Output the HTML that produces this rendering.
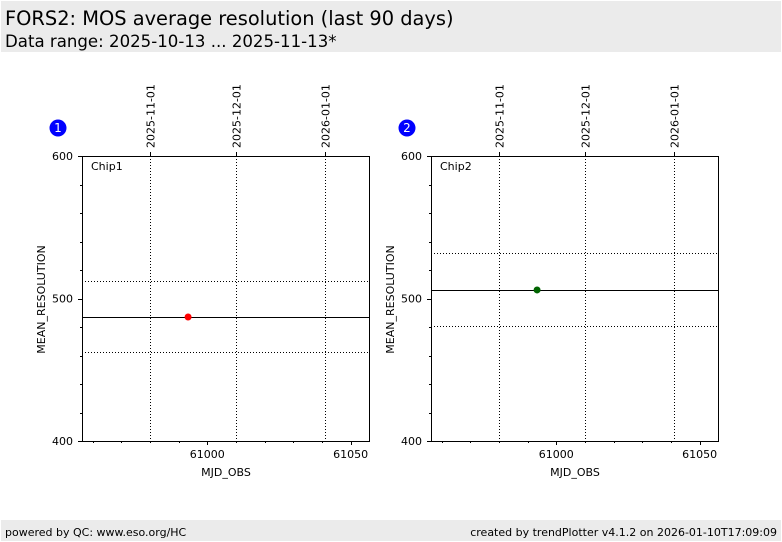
<!DOCTYPE html>
<html><head><meta charset="utf-8"><style>
body{margin:0;width:782px;height:542px;background:#fff;font-family:"DejaVu Sans","Liberation Sans",sans-serif;position:relative;overflow:hidden}
#hdr{position:absolute;left:1px;top:1px;width:780px;height:51px;background:#ebebeb}
#t1{position:absolute;left:4px;top:6px;font-size:19.4px}
#t2{position:absolute;left:4px;top:31px;font-size:16.6px}
#ftr{position:absolute;left:1px;top:520px;width:780px;height:21px;background:#ebebeb;font-size:11px}
svg text{font-family:"DejaVu Sans","Liberation Sans",sans-serif}
</style></head><body>
<div id="hdr">
<div id="t1">FORS2: MOS average resolution (last 90 days)</div>
<div id="t2">Data range: 2025-10-13 ... 2025-11-13*</div>
</div>
<svg id="svg" width="782" height="542" style="position:absolute;left:0;top:0"></svg>
<div id="ftr">
<span style="position:absolute;left:4px;top:6px">powered by QC: www.eso.org/HC</span>
<span style="position:absolute;right:4px;top:6px">created by trendPlotter v4.1.2 on 2026-01-10T17:09:09</span>
</div>
<script>
const chipNames=["Chip1","Chip2"];
const pointMjd=[60993.3,60993.3];
const pointValues=[487,506];
const meanValues=[487,506];
const upperLimits=[512,532];
const lowerLimits=[462.5,481];
const pointColors=["#ff0000","#006400"];
const xTicks=[61000,61050];
const dateLabels=["2025-11-01","2025-12-01","2026-01-01"];
const dateMjd=[60980,61010,61041];
const yTicks=[400,500,600];

const NS="http://www.w3.org/2000/svg";
const svg=document.getElementById('svg');
function mk(t,a,p){const e=document.createElementNS(NS,t);for(const k in a)e.setAttribute(k,a[k]);(p||svg).appendChild(e);return e;}
const X0=60956.3,X1=61056.4,Y0=400,Y1=600,PW=287,PH=285,TOP=156;
chipNames.forEach((name,i)=>{
  const L=82+i*349;
  const g=mk('g',{});
  
  
  const xs=v=>L+(v-X0)/(X1-X0)*PW;
  const ys=v=>TOP+PH-(v-Y0)/(Y1-Y0)*PH;
  const c=mk('circle',{cx:L-24,cy:128,r:8.5,fill:'#0000ff'},g);
  
  
  const bt=mk('text',{x:L-24,y:132,'text-anchor':'middle','font-size':12,fill:'#fff'},g);bt.textContent=String(i+1);
  dateMjd.forEach((d,j)=>{
    const x=Math.round(xs(d))+0.5;
    const ln=mk('line',{x1:x,x2:x,y1:TOP,y2:TOP+PH,stroke:'#000','stroke-width':1,'stroke-dasharray':'1,2'},g);
    
    
    mk('line',{x1:x,x2:x,y1:TOP,y2:TOP-4,stroke:'#000'},g);
    const t=mk('text',{x:0,y:0,'font-size':11,transform:`translate(${x+4},${TOP-8}) rotate(-90)`},g);
    t.textContent=dateLabels[j];
    
    
  });
  [upperLimits[i],lowerLimits[i]].forEach(v=>{
    const y=Math.round(ys(v))+0.5;
    const ln=mk('line',{x1:L,x2:L+PW,y1:y,y2:y,stroke:'#000','stroke-dasharray':'1,2'},g);
    
    
  });
  const my=Math.round(ys(meanValues[i]))+0.5;
  const ml=mk('line',{x1:L,x2:L+PW,y1:my,y2:my,stroke:'#000'},g);
  
  
  const fr=mk('rect',{x:L+0.5,y:TOP+0.5,width:PW,height:PH,fill:'none',stroke:'#000'},g);
  
  
  for(let v=60960;v<=X1;v+=10){const x=Math.round(xs(v))+0.5;mk('line',{x1:x,x2:x,y1:TOP+PH,y2:TOP+PH+(v%50==0?4:2),stroke:'#000'},g);}
  xTicks.forEach(v=>{const t=mk('text',{x:xs(v),y:TOP+PH+17,'text-anchor':'middle','font-size':11},g);t.textContent=v;
    
    });
  for(let v=Y0;v<=Y1;v+=20){const y=Math.round(ys(v))+0.5;mk('line',{x1:L,x2:L-(v%100==0?4:2),y1:y,y2:y,stroke:'#000'},g);}
  yTicks.forEach(v=>{const t=mk('text',{x:L-9,y:ys(v)+4,'text-anchor':'end','font-size':11},g);t.textContent=v;
    
    });
  const xl=mk('text',{x:L+144,y:476,'text-anchor':'middle','font-size':11},g);xl.textContent='MJD_OBS';
  
  
  const yl=mk('text',{x:0,y:0,'text-anchor':'middle','font-size':11,transform:`translate(${L-37},${TOP+PH/2+1}) rotate(-90)`},g);yl.textContent='MEAN_RESOLUTION';
  
  
  const cl=mk('text',{x:L+9,y:TOP+14,'font-size':11},g);cl.textContent=name;
  
  
  const p=mk('circle',{cx:xs(pointMjd[i]),cy:ys(pointValues[i]),r:3.5,fill:pointColors[i]},g);
  
  
});
</script>
</body></html>
